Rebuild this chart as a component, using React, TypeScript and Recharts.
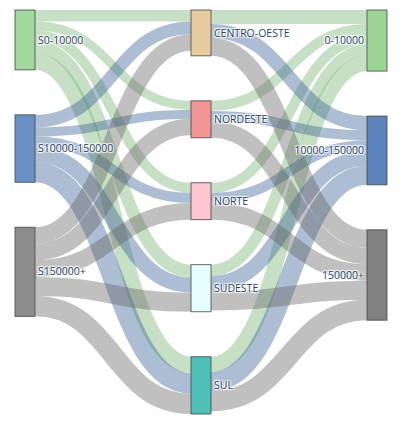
import { Sankey } from "recharts";

// node names per column
const sources = ["S0-10000", "S10000-150000", "S150000+"];
const regions = ["CENTRO-OESTE", "NORDESTE", "NORTE", "SUDESTE", "SUL"];
const targets = ["0-10000", "10000-150000", "150000+"];

// flows source bracket -> region (order of regions)
const fromS0 = [9, 7, 8, 10, 13];
const fromS10000 = [10, 7, 8, 12, 16];
const fromS150000 = [13, 13, 13, 15, 16];

// flows region -> target bracket (order of regions)
const to0 = [11, 8, 8, 9, 12];
const to10000 = [11, 8, 8, 12, 15];
const to150000 = [14, 13, 13, 15, 16];

const inFlows = [fromS0, fromS10000, fromS150000];
const outFlows = [to0, to10000, to150000];

const nodeColors: Record<string, string> = {
  "S0-10000": "#98d494",
  "S10000-150000": "#5b84bf",
  "S150000+": "#7f7f7f",
  "CENTRO-OESTE": "#e4c594",
  NORDESTE: "#ef8a8a",
  NORTE: "#fdbfca",
  SUDESTE: "#e2ffff",
  SUL: "#3cb9b0",
  "0-10000": "#90cf88",
  "10000-150000": "#4a76b5",
  "150000+": "#737373",
};

const linkColors = ["rgba(115,178,110,0.4)", "rgba(50,92,147,0.4)", "rgba(97,97,97,0.4)"];

const nodes = [...sources, ...regions, ...targets].map((name) => ({ name }));
const links: { source: number; target: number; value: number }[] = [];
inFlows.forEach((row, i) =>
  row.forEach((value, j) => links.push({ source: i, target: sources.length + j, value }))
);
outFlows.forEach((row, k) =>
  row.forEach((value, j) =>
    links.push({ source: sources.length + j, target: sources.length + regions.length + k, value })
  )
);

const bandOf = (src: string, tgt: string) => {
  const i = sources.indexOf(src);
  return i >= 0 ? i : targets.indexOf(tgt);
};

const SankeyLink = (props: any) => {
  const { sourceX, targetX, sourceY, targetY, sourceControlX, targetControlX, linkWidth, payload } = props;
  const band = bandOf(payload.source.name, payload.target.name);
  return (
    <path
      d={`M${sourceX},${sourceY}C${sourceControlX},${sourceY} ${targetControlX},${targetY} ${targetX},${targetY}`}
      fill="none"
      stroke={linkColors[band]}
      strokeWidth={linkWidth}
    />
  );
};

const SankeyNode = (props: any) => {
  const { x, y, width, height, payload } = props;
  const right = targets.includes(payload.name);
  return (
    <g>
      <rect
        x={x}
        y={y}
        width={width}
        height={height}
        fill={nodeColors[payload.name]}
        fillOpacity={0.9}
        stroke="#444"
        strokeOpacity={0.8}
        strokeWidth={1}
      />
      <text
        x={right ? x - 3 : x + width + 3}
        y={y + height / 2}
        dy="0.35em"
        textAnchor={right ? "end" : "start"}
        fontFamily="'Open Sans', sans-serif"
        fontSize={10.5}
        fill="#2a3f5f"
        style={{ textShadow: "1px 1px 1px #fff, -1px -1px 1px #fff, 1px -1px 1px #fff, -1px 1px 1px #fff" }}
      >
        {payload.name}
      </text>
    </g>
  );
};

export default function App() {
  return (
    <div style={{ width: 411, height: 422 }}>
      <style>{"body{margin:0}"}</style>
      <Sankey
        width={411}
        height={422}
        data={{ nodes, links }}
        nodeWidth={20}
        nodePadding={45}
        iterations={0}
        sort={false}
        margin={{ top: 10, right: 24, bottom: 8, left: 15 }}
        node={<SankeyNode />}
        link={<SankeyLink />}
      />
    </div>
  );
}
